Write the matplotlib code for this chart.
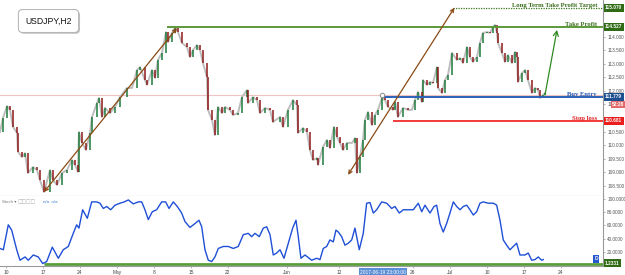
import matplotlib
matplotlib.use('Agg')
import matplotlib.pyplot as plt
import matplotlib.transforms as mtransforms
import matplotlib.patheffects as pe
import numpy as np

# ---------------- data ----------------
# x = trading-day offset from Mon 10 Apr 2017
price_day = [-0.81, -0.41, 0.14, 0.54, 0.95, 1.49, 1.62, 2.16, 2.57, 2.97,
             3.65, 4.19, 4.59, 5.14, 5.95, 6.35, 6.89, 7.57, 8.24, 8.92,
             9.32, 9.73, 9.86, 10.27, 10.81, 11.35, 11.62, 12.30, 12.57, 12.97,
             13.38, 14.05, 14.73, 15.41, 16.35, 17.03, 17.70, 18.11, 18.78, 19.05,
             19.73, 20.14, 20.54, 21.08, 21.62, 21.89, 22.43, 22.84, 23.24, 23.78,
             24.46, 24.86, 25.27, 25.81, 26.22, 26.62, 27.16, 27.30, 27.84, 28.24,
             28.65, 29.19, 29.59, 30.27, 30.68, 31.35, 31.89, 32.57, 32.70, 33.38,
             33.92, 34.32, 35.00, 35.68, 36.08, 37.03, 37.43, 38.11, 38.78, 39.32,
             39.46, 40.14, 40.68, 41.08, 41.49, 42.03, 42.16, 42.84, 43.38, 43.78,
             44.32, 44.73, 45.14, 45.54, 46.08, 46.76, 47.16, 47.43, 47.84, 48.24,
             48.51, 48.92, 49.46, 49.86, 50.27, 50.81, 51.22, 51.62, 52.30, 52.57,
             52.97, 53.65, 54.32, 54.86, 55.27, 55.68, 56.22, 56.35, 56.89, 57.30,
             57.70, 58.24, 58.38, 58.92, 59.32, 59.73, 60.27, 60.95, 61.35, 61.76,
             62.30, 62.70, 63.11, 63.65, 64.05, 64.46, 65.00, 65.41, 65.81, 66.08,
             66.35, 66.49, 67.03, 67.43, 67.84, 68.38, 68.78, 69.05, 69.19, 69.73,
             70.14, 70.54, 71.08, 71.49, 71.89, 72.16, 72.57, 72.84]
price_close = [110.48, 111.00, 111.44, 111.30, 110.67, 110.45, 109.75, 109.56, 109.70, 108.97,
               109.19, 109.08, 108.71, 108.27, 109.08, 108.71, 108.53, 108.97, 109.08, 109.45,
               109.27, 109.01, 110.48, 110.08, 109.82, 110.45, 111.04, 111.55, 111.74, 111.04,
               111.37, 111.18, 111.41, 111.77, 112.11, 112.11, 112.77, 112.88, 112.40, 112.22,
               112.77, 112.48, 113.14, 113.40, 114.17, 113.80, 114.14, 114.32, 114.17, 113.77,
               113.62, 113.25, 113.51, 113.69, 113.51, 113.03, 112.51, 111.30, 110.93, 110.37,
               111.41, 111.18, 111.41, 111.30, 111.11, 111.18, 111.77, 112.03, 111.55, 111.77,
               111.66, 111.18, 111.37, 111.30, 110.85, 111.04, 110.67, 111.30, 111.66, 111.48,
               110.45, 110.63, 110.48, 109.82, 109.45, 109.52, 109.27, 109.93, 110.19, 109.89,
               110.67, 110.30, 110.08, 109.82, 110.08, 110.08, 110.26, 108.97, 109.56, 110.19,
               110.93, 111.22, 110.74, 111.11, 111.30, 111.74, 111.66, 111.41, 111.30, 111.59,
               111.04, 111.37, 111.30, 111.30, 111.66, 111.96, 111.59, 112.40, 112.22, 112.33,
               112.29, 112.88, 112.11, 111.92, 112.40, 112.59, 113.40, 113.14, 113.21, 113.03,
               113.62, 113.25, 113.07, 113.25, 113.77, 114.14, 114.17, 114.14, 114.36, 114.43,
               114.14, 113.77, 113.40, 113.07, 113.32, 113.03, 113.44, 113.25, 112.33, 112.66,
               112.77, 112.40, 111.92, 112.11, 112.03, 111.74, 111.85, 111.92]

stoch_day = [-0.81, -0.36, 0.31, 0.77, 1.45, 1.89, 2.57, 3.01, 3.69, 4.36,
             4.96, 5.50, 6.26, 7.07, 7.74, 8.42, 9.09, 9.55, 9.86, 10.36,
             10.99, 11.58, 12.26, 12.70, 13.15, 13.61, 14.15, 14.73, 15.41, 15.99,
             16.53, 17.20, 17.88, 18.34, 18.78, 19.23, 19.77, 20.36, 21.04, 21.58,
             22.03, 22.61, 23.15, 23.74, 24.19, 24.86, 25.54, 26.08, 26.45, 26.89,
             27.34, 27.80, 28.24, 28.69, 29.36, 30.04, 30.72, 31.39, 32.07, 32.74,
             33.20, 33.65, 34.23, 34.77, 35.23, 35.68, 36.12, 36.58, 37.03, 37.57,
             38.15, 38.74, 39.19, 39.50, 39.86, 40.41, 41.31, 41.99, 42.43, 42.88,
             43.34, 43.78, 44.23, 44.59, 44.91, 45.36, 45.81, 46.26, 46.72, 47.16,
             47.39, 47.74, 48.07, 48.28, 48.74, 49.19, 49.64, 50.09, 50.77, 51.45,
             52.12, 52.57, 53.15, 53.69, 54.36, 55.04, 55.72, 56.18, 56.62, 57.30,
             57.84, 58.20, 58.65, 59.09, 59.55, 60.00, 60.45, 60.91, 61.35, 61.80,
             62.26, 62.70, 63.15, 63.61, 64.05, 64.50, 65.18, 65.85, 66.31, 66.76,
             67.20, 67.66, 68.11, 68.55, 69.01, 69.46, 70.14, 70.58, 71.04, 71.49,
             71.93, 72.39, 72.61]
stoch_val = [25, 23, 61, 53, 23, 7, 12, 7, 15, 12,
             2, 5, 27, 10, 23, 28, 48, 61, 56, 84,
             71, 96, 96, 94, 86, 89, 84, 91, 94, 96,
             99, 93, 96, 96, 84, 69, 81, 84, 96, 96,
             86, 96, 89, 79, 66, 57, 63, 68, 58, 23,
             7, 5, 12, 25, 28, 28, 25, 28, 46, 48,
             43, 48, 43, 56, 58, 46, 15, 18, 23, 10,
             33, 56, 68, 43, 10, 15, 7, 10, 8, 25,
             28, 38, 35, 53, 50, 43, 30, 33, 38, 56,
             43, 23, 38, 48, 94, 95, 79, 84, 96, 94,
             86, 89, 79, 84, 84, 84, 94, 81, 91, 79,
             89, 91, 63, 50, 63, 79, 96, 89, 84, 89,
             91, 84, 76, 81, 94, 96, 94, 94, 91, 68,
             38, 30, 23, 28, 33, 15, 15, 18, 7, 8,
             12, 7, 8]

date_tick_days = [0, 5, 10, 15, 20, 25, 30, 38, 45, 55, 60, 65, 70, 75]
date_tick_labels = ['10', '17', '24', 'May', '8', '15', '22', 'Jun', '12', '26', 'Jul', '10', '17', '24']
price_ticks = [108.5, 109.0, 109.5, 110.0, 110.5, 111.5, 112.0, 112.5, 113.0, 113.5, 114.0]
stoch_ticks = [20, 40, 60, 80, 100]

# annotation levels (where drawn) and their printed labels
long_term_level = 115.07
take_profit_level = 114.36
buy_entry_level = 111.779
stop_loss_level = 110.90
current_price_level = 111.84
stoch_level = 1.2331
long_term_text, take_profit_text, buy_entry_text, stop_loss_text = '115.070', '114.527', '111.779', '110.681'
stoch_level_text = '1.2331'
timer_text = '52:28'
cursor_date_day = 50.96
cursor_date_text = '2017-06-19 23:00:00'

# line start days
long_term_start, take_profit_start, buy_entry_start, stop_loss_start, stoch_line_start = 60.4, 21.8, 50.81, 52.3, 5.14
# arrows: (day, price) pairs
arrow1 = [(5.14, 108.27), (23.1, 114.32)]
arrow2 = [(46.22, 108.90), (60.6, 115.07)]
arrow_green = [(72.84, 111.85), (74.46, 114.25)]

# ---------------- figure ----------------
W, H = 625, 275
fig = plt.figure(figsize=(W / 100, H / 100), dpi=100)
fig.patch.set_facecolor('white')
ax = fig.add_axes([0, 79 / H, 603 / W, 196 / H])
ax2 = fig.add_axes([0, 9 / H, 603 / W, 70 / H])

sans = ['Liberation Sans', 'DejaVu Sans']
serif = ['Liberation Serif', 'DejaVu Serif']

XMIN, XMAX = -0.81, 80.68
ax.set_xlim(XMIN, XMAX)
ax.set_ylim(108.122, 115.354)
ax2.set_xlim(XMIN, XMAX)
ax2.set_ylim(-1.8, 105.0)

for a in (ax, ax2):
    a.spines['left'].set_visible(False)
    a.spines['top'].set_visible(False)
    a.spines['right'].set_color('#9a9a9a')
    a.spines['bottom'].set_color('#9a9a9a')
    a.spines['right'].set_linewidth(0.8)
    a.spines['bottom'].set_linewidth(0.8)
    a.yaxis.tick_right()
    a.tick_params(axis='y', length=1.5, width=0.5, color='#999', labelsize=3.4,
                  labelcolor='#555', pad=1.5)
    a.set_facecolor('white')

ax.set_xticks([])
ax.set_yticks(price_ticks)
ax.set_yticklabels([f'{v:.3f}' for v in price_ticks], family=sans)
ax2.set_yticks(stoch_ticks)
ax2.set_yticklabels([f'{v:.4f}' for v in stoch_ticks], family=sans)
ax2.set_xticks(date_tick_days)
ax2.set_xticklabels(date_tick_labels, family=sans)
ax2.tick_params(axis='x', length=1.5, width=0.5, color='#999', labelsize=3.5,
                labelcolor='#444', pad=1.2)

# ---------------- price candles ----------------
d = np.array(price_day)
c = np.array(price_close)
ax.plot(d, c, color='#bdbdbd', lw=1.4, zorder=1)
o = c[:-1]
cl = c[1:]
x = d[1:]
up = cl >= o
ax.vlines(x[up], o[up], cl[up], color='#1d7a3a', lw=1.1, zorder=2)
ax.vlines(x[~up], o[~up], cl[~up], color='#8e1b1b', lw=1.1, zorder=2)

# current price line
ax.axhline(current_price_level, color='#f0c2c2', lw=0.8, zorder=0.5)

# horizontal annotation lines
ax.hlines(long_term_level, long_term_start, XMAX, color='#3c7a1c', lw=0.9, linestyles=(0, (1, 1)), zorder=3)
ax.hlines(take_profit_level, take_profit_start, XMAX, color='#5c9a3a', lw=1.4, zorder=3)
ax.hlines(buy_entry_level, buy_entry_start, XMAX, color='#2a62b8', lw=1.4, zorder=3)
ax.hlines(stop_loss_level, stop_loss_start, XMAX, color='#f23a3a', lw=1.4, zorder=3)
ax.plot([buy_entry_start], [current_price_level], 'o', mfc='white', mec='#8a8a8a', ms=3.2, mew=0.7, zorder=4)

# arrows
brown = '#8a4a14'
for arr in (arrow1, arrow2):
    ax.annotate('', xy=arr[1], xytext=arr[0],
                arrowprops=dict(arrowstyle='<->,head_length=0.25,head_width=0.12', color=brown,
                                lw=0.9, shrinkA=0, shrinkB=0), zorder=5)
ax.annotate('', xy=arrow_green[1], xytext=arrow_green[0],
            arrowprops=dict(arrowstyle='->,head_length=0.35,head_width=0.18', color='#2e8b22',
                            lw=0.9, shrinkA=0, shrinkB=0), zorder=5)

# line labels
lab_x = 597 / 603
for lvl, txt, col in [(long_term_level, 'Long Term Take Profit Target', '#3c6e1e'),
                      (take_profit_level, 'Take Profit', '#3c6e1e'),
                      (buy_entry_level, 'Buy Entry', '#2458b0'),
                      (stop_loss_level, 'Stop loss', '#e02222')]:
    ax.annotate(txt, xy=(lab_x, lvl), xycoords=('axes fraction', 'data'),
                xytext=(0, 0.8), textcoords='offset points', ha='right', va='baseline',
                fontsize=4.8, family=serif, fontweight='bold', color=col, zorder=6)

# right-axis value boxes
bt = mtransforms.blended_transform_factory(ax.transAxes, ax.transData)
def vbox(axis, trans, xpos, y, txt, fc, z=10):
    axis.text(xpos, y, txt, transform=trans, ha='left', va='center', fontsize=3.4, family=sans,
              color='white', fontweight='bold', clip_on=False, zorder=z,
              bbox=dict(boxstyle='square,pad=0.3', fc=fc, ec='none'))

vbox(ax, bt, 1.0035, long_term_level, long_term_text, '#2f6a14')
vbox(ax, bt, 1.0035, take_profit_level, take_profit_text, '#2f6a14')
vbox(ax, bt, 1.0035, buy_entry_level, buy_entry_text, '#1d4f91')
vbox(ax, bt, 1.015, 111.5, timer_text, '#e26a6a')
vbox(ax, bt, 1.0035, stop_loss_level, stop_loss_text, '#ea1c1c')

# title box
t = ax.text(48.5 / 603, 1 - 21 / 196, 'USDJPY,H2', transform=ax.transAxes, ha='center', va='center',
            fontsize=6.2, family=sans, color='#111', zorder=8,
            bbox=dict(boxstyle='round,pad=0.8,rounding_size=0.5', fc='white', ec='#b0b0b0', lw=0.6))
t.get_bbox_patch().set_path_effects([pe.withSimplePatchShadow(offset=(1, -1), alpha=0.35), pe.Normal()])

# ---------------- stochastic ----------------
ax2.plot(stoch_day, stoch_val, color='#1f4fd6', lw=1.0, zorder=3)
ax2.hlines(stoch_level, stoch_line_start, XMAX, color='#5a9e3a', lw=2.0, zorder=2)
bt2 = mtransforms.blended_transform_factory(ax2.transAxes, ax2.transData)
vbox(ax2, bt2, 1.0035, stoch_level + 1.0, stoch_level_text, '#2f6a14')
ax2.text(596 / 603, 8.9, 'D', transform=bt2, ha='center', va='center', fontsize=3.4, family=sans,
         color='white', fontweight='bold', zorder=10,
         bbox=dict(boxstyle='square,pad=0.35', fc='#2456cc', ec='none'))

ax2.text(2 / 603, 0.915, 'Stoch ▾', transform=ax2.transAxes, ha='left', va='center', fontsize=3.2,
         family=sans, color='#777')
ax2.text(18 / 603, 0.915, '□□□□', transform=ax2.transAxes, ha='left', va='center', fontsize=3.4,
         family=['DejaVu Sans'], color='#aaa')
ax2.text(43 / 603, 0.915, 'n/a  n/a', transform=ax2.transAxes, ha='left', va='center', fontsize=3.2,
         family=sans, color='#3a7ad0')

bt3 = mtransforms.blended_transform_factory(ax2.transData, ax2.transAxes)
ax2.text(cursor_date_day, -0.088, cursor_date_text, transform=bt3, ha='center', va='center', fontsize=3.5,
         family=sans, color='white', clip_on=False, zorder=10,
         bbox=dict(boxstyle='square,pad=0.3', fc='#5b8fd6', ec='none'))

fig.savefig('out.png', dpi=100, facecolor='white')
